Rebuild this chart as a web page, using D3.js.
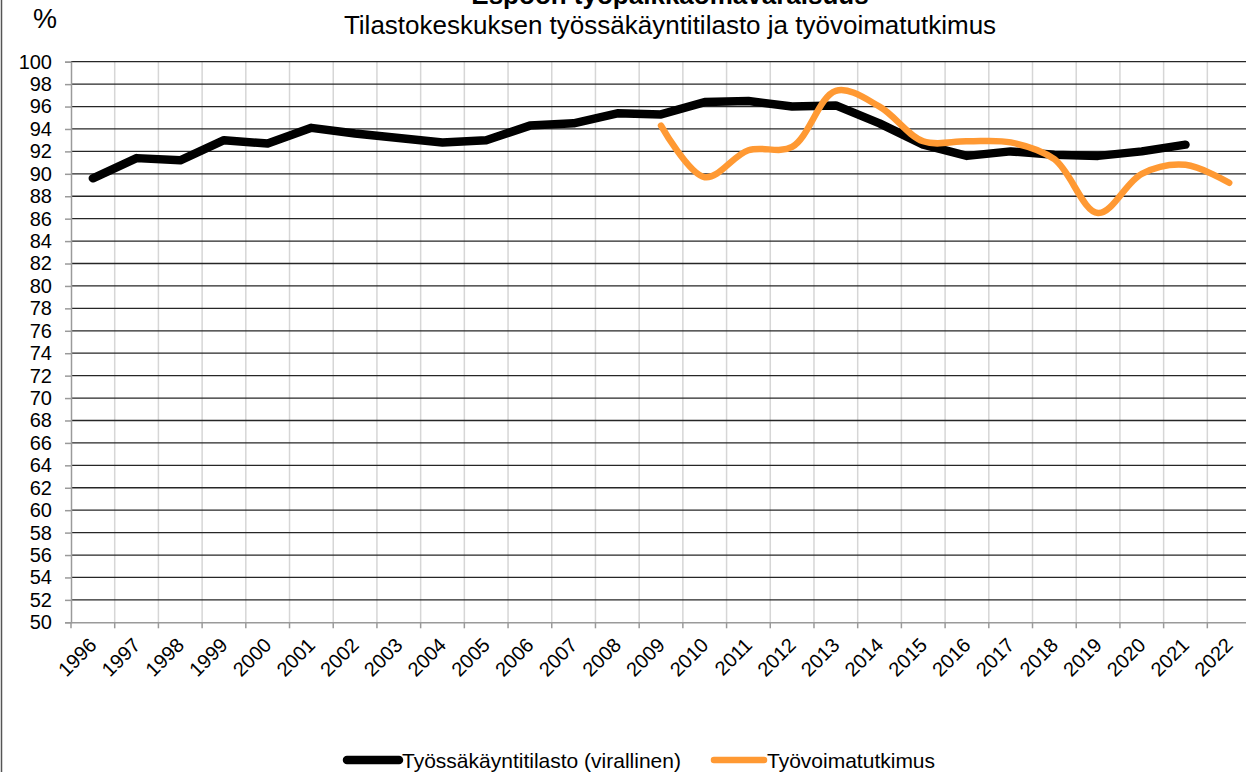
<!DOCTYPE html>
<html>
<head>
<meta charset="utf-8">
<script src="https://cdn.jsdelivr.net/npm/d3@7"></script>
<style>
  html, body { margin: 0; padding: 0; background: #fff; }
  svg { display: block; font-family: "Liberation Sans", Arial, sans-serif; }
</style>
</head>
<body>
<svg id="chart" width="1246" height="772"></svg>
<script>
const years = ["1996","1997","1998","1999","2000","2001","2002","2003","2004","2005","2006","2007","2008","2009","2010","2011","2012","2013","2014","2015","2016","2017","2018","2019","2020","2021","2022"];
const tyossakayntiYears = ["1996","1997","1998","1999","2000","2001","2002","2003","2004","2005","2006","2007","2008","2009","2010","2011","2012","2013","2014","2015","2016","2017","2018","2019","2020","2021"];
const tyossakayntiValues = [89.6, 91.4, 91.2, 93.0, 92.7, 94.1, 93.6, 93.2, 92.8, 93.0, 94.3, 94.5, 95.4, 95.3, 96.4, 96.5, 96.0, 96.1, 94.5, 92.6, 91.6, 92.0, 91.7, 91.6, 92.0, 92.6];
const tyovoimaYears = ["2009","2010","2011","2012","2013","2014","2015","2016","2017","2018","2019","2020","2021","2022"];
const tyovoimaValues = [94.3, 89.7, 92.1, 92.4, 97.4, 96.0, 92.9, 92.9, 92.8, 91.3, 86.5, 90.0, 90.8, 89.2];
const yTicks = d3.range(50, 101, 2);
const seriesNames = ["Työssäkäyntitilasto (virallinen)", "Työvoimatutkimus"];
const titleText = "Espoon työpaikkaomavaraisuus";
const subtitleText = "Tilastokeskuksen työssäkäyntitilasto ja työvoimatutkimus";
const unitText = "%";

const svg = d3.select("#chart");
const plotLeft = 71, plotTop = 61.7, plotBottom = 622.3, step = 43.705;
const plotRight = plotLeft + step * years.length;

const x = d3.scaleBand().domain(years).range([plotLeft, plotRight]).padding(0);
const y = d3.scaleLinear().domain([50, 100]).range([plotBottom, plotTop]);
const cx = d => x(d) + x.bandwidth() / 2;

// left frame border
svg.append("line").attr("x1", 1.5).attr("x2", 1.5).attr("y1", 0).attr("y2", 772)
  .attr("stroke", "#555").attr("stroke-width", 1.5);

// vertical gridlines at category boundaries
svg.append("g").selectAll("line").data(years).join("line")
  .attr("x1", d => x(d) + x.bandwidth())
  .attr("x2", d => x(d) + x.bandwidth())
  .attr("y1", plotTop).attr("y2", plotBottom)
  .attr("stroke", "#d6d6d6").attr("stroke-width", 1.5);

// horizontal gridlines
svg.append("g").selectAll("line").data(yTicks.filter(v => v > 50)).join("line")
  .attr("x1", plotLeft).attr("x2", plotRight)
  .attr("y1", d => y(d)).attr("y2", d => y(d))
  .attr("stroke", "#262626").attr("stroke-width", 1.3);

// y axis
const yAxis = svg.append("g").attr("transform", `translate(${plotLeft},0)`)
  .call(d3.axisLeft(y).tickValues(yTicks).tickSize(6).tickPadding(13));
yAxis.select(".domain").attr("stroke", "#9a9a9a").attr("stroke-width", 1.5);
yAxis.selectAll(".tick line").attr("stroke", "#9a9a9a").attr("stroke-width", 1.5);
yAxis.selectAll(".tick text").attr("font-size", 20).attr("fill", "#000")
  .attr("font-family", "Liberation Sans, Arial, sans-serif");

// x axis
const xAxis = svg.append("g").attr("transform", `translate(0,${plotBottom})`)
  .call(d3.axisBottom(x).tickSize(0).tickSizeOuter(0));
xAxis.select(".domain").attr("stroke", "#9a9a9a").attr("stroke-width", 1.5);
xAxis.selectAll(".tick text")
  .attr("font-size", 20).attr("fill", "#000")
  .attr("font-family", "Liberation Sans, Arial, sans-serif")
  .attr("text-anchor", "end").attr("x", 0).attr("y", 0).attr("dy", null)
  .attr("transform", "translate(5,24) rotate(-45)");
// boundary ticks on x axis
svg.append("g").selectAll("line").data(years).join("line")
  .attr("x1", d => x(d)).attr("x2", d => x(d))
  .attr("y1", plotBottom).attr("y2", plotBottom + 6)
  .attr("stroke", "#9a9a9a").attr("stroke-width", 1.5);

// lines
const lineStraight = d3.line().x(d => cx(d[0])).y(d => y(d[1]));
const lineSmooth = d3.line().x(d => cx(d[0])).y(d => y(d[1])).curve(d3.curveCatmullRom.alpha(0.5));

svg.append("path")
  .datum(tyossakayntiYears.map((yr, i) => [yr, tyossakayntiValues[i]]))
  .attr("d", lineStraight).attr("fill", "none")
  .attr("stroke", "#000").attr("stroke-width", 8.5)
  .attr("stroke-linejoin", "round").attr("stroke-linecap", "round");

svg.append("path")
  .datum(tyovoimaYears.map((yr, i) => [yr, tyovoimaValues[i]]))
  .attr("d", lineSmooth).attr("fill", "none")
  .attr("stroke", "#ff9933").attr("stroke-width", 6.5)
  .attr("stroke-linejoin", "round").attr("stroke-linecap", "round");

// titles
svg.append("text").attr("x", 670).attr("y", 4).attr("text-anchor", "middle")
  .attr("font-size", 26).attr("font-weight", "bold").text(titleText);
svg.append("text").attr("x", 670).attr("y", 34).attr("text-anchor", "middle")
  .attr("font-size", 26).text(subtitleText);
svg.append("text").attr("x", 45).attr("y", 28).attr("text-anchor", "middle")
  .attr("font-size", 27).text(unitText);

// legend
const legend = [
  { name: seriesNames[0], color: "#000", w: 8.5, x1: 347, x2: 399, tx: 402 },
  { name: seriesNames[1], color: "#ff9933", w: 6.5, x1: 714, x2: 764, tx: 767 }
];
const lg = svg.append("g");
legend.forEach(l => {
  lg.append("line").attr("x1", l.x1).attr("x2", l.x2).attr("y1", 760).attr("y2", 760)
    .attr("stroke", l.color).attr("stroke-width", l.w).attr("stroke-linecap", "round");
  lg.append("text").attr("x", l.tx).attr("y", 767.5).attr("font-size", 21).text(l.name);
});
</script>
</body>
</html>
